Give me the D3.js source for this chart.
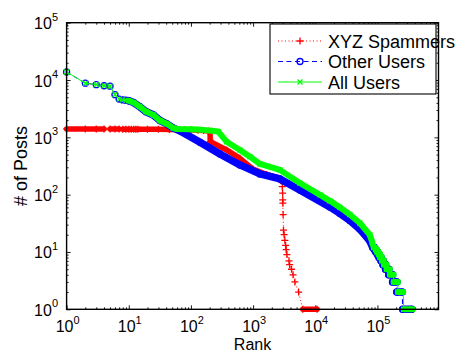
<!DOCTYPE html>
<html>
<head>
<meta charset="utf-8">
<script src="https://cdn.jsdelivr.net/npm/d3@7"></script>
<style>
  body { margin: 0; background: #fff; }
  text { font-family: "Liberation Sans", Arial, Helvetica, sans-serif; fill: #000; }
</style>
</head>
<body>
<svg id="chart" width="466" height="354"></svg>
<script>
// ---- data ----
const seriesNames = ["XYZ Spammers", "Other Users", "All Users"];
const xTickExps = [0, 1, 2, 3, 4, 5];
const yTickExps = [0, 1, 2, 3, 4, 5];

// XYZ spammers
const spamRank  = [1, 2, 3, 4, 5, 6, 7, 8, 9, 10, 11, 12, 13, 14, 20, 30, 45, 60, 80, 100, 130, 160, 190, 203,
                   204, 226, 375, 614, 993, 1650, 2390, 2800,
                   2950, 2980, 3000, 3010, 3040, 3080, 3160, 3240, 3330, 3400, 3500, 3780, 3870, 4150, 4390, 4700, 5400,
                   6300, 10700];
const spamPosts = [1400, 1400, 1400, 1400, 1395, 1395, 1395, 1390, 1390, 1390, 1390, 1385, 1385, 1385, 1385, 1380, 1375, 1370, 1360, 1350, 1335, 1315, 1290, 1260,
                   840, 800, 603, 430, 280, 225, 200, 175,
                   138, 106, 81, 71, 45, 24, 20, 16, 13, 11, 9, 7, 6, 5, 4, 3, 2,
                   1, 1];

// other users
const otherRank  = [1, 2, 3, 4, 5, 6, 7, 8, 9, 10, 12, 15, 19, 25, 32, 41, 52, 66, 140, 293, 614, 1290, 2700, 5650,
                    17200, 24900, 35900, 52100, 75400,
                    84000, 89000, 89000, 94000, 94000, 100000, 100000, 106000, 106000, 114000, 114000, 123000,
                    123000, 135000, 135000, 152000, 152000, 175000, 175000, 205000, 205000, 250000, 255000, 355000];
const otherPosts = [13800, 8800, 8300, 7950, 7800, 5550, 4650, 4500, 4450, 4350, 4040, 3420, 2800, 2450, 1950, 1720, 1450, 1300, 820, 513, 330, 230, 188, 121,
                    61, 47, 35.5, 25, 15.6,
                    12, 12, 11, 11, 10, 10, 9, 9, 8, 8, 7, 7,
                    6, 6, 5, 5, 4, 4, 3, 3, 2, 2, 1, 1];

// all users
const allRank  = [1, 2, 3, 4, 5, 6, 7, 8, 9, 10, 12, 15, 19, 25, 32, 41, 52, 60, 100, 150, 200, 275, 375, 614, 889, 1290, 2700, 5650, 11900,
                  17200, 24900, 35900, 52100, 75400, 82000,
                  87000, 93000, 93000, 98000, 98000, 104000, 104000, 110000, 110000, 118000, 118000, 127000,
                  127000, 140000, 140000, 158000, 158000, 182000, 182000, 213000, 213000, 260000, 265000, 365000];
const allPosts = [13800, 8800, 8300, 7950, 7800, 5550, 4650, 4500, 4450, 4350, 4040, 3420, 2800, 2450, 1950, 1720, 1450, 1400, 1380, 1350, 1320, 1260, 840, 603, 460, 343, 270, 160, 99,
                  78, 60, 45, 32, 20, 15,
                  12, 12, 11, 11, 10, 10, 9, 9, 8, 8, 7, 7,
                  6, 6, 5, 5, 4, 4, 3, 3, 2, 2, 1, 1];

// ---- layout ----
const svg = d3.select("#chart");
const x = d3.scaleLog().domain([1, 9.6e5]).range([66.6, 438.5]);
const y = d3.scaleLog().domain([1, 1e5]).range([309.3, 22.7]);
const [x0, x1] = x.range();
const [y0, y1] = y.range();

const isPow = d => Math.abs(Math.log10(d) - Math.round(Math.log10(d))) < 1e-9;

// ticks on all four sides, pointing inwards
function ticks(axisFn, scale, transform) {
  const all = scale.ticks();
  const major = all.filter(isPow), minor = all.filter(d => !isPow(d));
  [[major, 4], [minor, 2]].forEach(([vals, len]) => {
    const g = svg.append("g").attr("transform", transform)
      .call(axisFn(scale).tickValues(vals).tickSizeInner(-len).tickSizeOuter(0).tickFormat(""));
    g.select(".domain").remove();
    g.selectAll("line").attr("stroke", "#000").attr("stroke-width", 0.9);
  });
}
ticks(d3.axisBottom, x, `translate(0,${y0})`);
ticks(d3.axisTop, x, `translate(0,${y1})`);
ticks(d3.axisLeft, y, `translate(${x0},0)`);
ticks(d3.axisRight, y, `translate(${x1},0)`);

// tick labels 10^n
const xl = svg.append("g").attr("font-size", 16).attr("text-anchor", "middle");
xTickExps.forEach(e => {
  const t = xl.append("text").attr("x", x(Math.pow(10, e)) + 1).attr("y", 332);
  t.append("tspan").text("10");
  t.append("tspan").attr("dy", -8).attr("font-size", 11).text(e);
});
const yl = svg.append("g").attr("font-size", 16).attr("text-anchor", "end");
yTickExps.forEach(e => {
  const t = yl.append("text").attr("x", 58).attr("y", y(Math.pow(10, e)) + 6.5);
  t.append("tspan").text("10");
  t.append("tspan").attr("dy", -8.5).attr("font-size", 11).text(e);
});

svg.append("text").attr("x", (x0 + x1) / 2).attr("y", 350).attr("text-anchor", "middle")
  .attr("font-size", 16).text("Rank");
svg.append("text").attr("transform", `translate(27,${(y0 + y1) / 2}) rotate(-90)`)
  .attr("text-anchor", "middle").attr("font-size", 18).text("# of Posts");

// ---- series ----
const styles = [
  { color: "#ff0000", dash: "1,2.5", marker: "plus", band: 5.5, bandFrom: 14, bandTo: 2800 },
  { color: "#0000ff", dash: "5,3.5", marker: "circle", band: 7.5, bandFrom: 10, bandTo: 84000 },
  { color: "#00ff00", dash: null, marker: "cross", band: 6, bandFrom: 10, bandTo: 87000 }
];
const series = [
  spamRank.map((r, i) => [r, spamPosts[i]]),
  otherRank.map((r, i) => [r, otherPosts[i]]),
  allRank.map((r, i) => [r, allPosts[i]])
];

const plot = svg.append("g");

function drawMarker(g, kind, cx, cy, color) {
  if (kind === "plus") {
    g.append("path").attr("d", `M${cx - 3.5},${cy}H${cx + 3.5}M${cx},${cy - 3.5}V${cy + 3.5}`)
      .attr("stroke", color).attr("stroke-width", 1.3).attr("fill", "none");
  } else if (kind === "circle") {
    g.append("circle").attr("cx", cx).attr("cy", cy).attr("r", 3)
      .attr("stroke", color).attr("stroke-width", 1.3).attr("fill", "none");
  } else {
    g.append("path").attr("d", `M${cx - 2.5},${cy - 2.5}L${cx + 2.5},${cy + 2.5}M${cx - 2.5},${cy + 2.5}L${cx + 2.5},${cy - 2.5}`)
      .attr("stroke", color).attr("stroke-width", 1.3).attr("fill", "none");
  }
}

series.forEach((pts, si) => {
  const st = styles[si];
  const g = plot.append("g");
  // dense stretches where markers merge into a solid band
  let d = "";
  for (let i = 0; i < pts.length - 1; i++) {
    const [ra, va] = pts[i], [rb, vb] = pts[i + 1];
    const inRange = ra >= st.bandFrom && rb <= st.bandTo;
    const flat = va === vb;
    if (inRange || flat) d += `M${x(ra)},${y(va)}L${x(rb)},${y(vb)}`;
  }
  g.append("path").attr("d", d).attr("fill", "none").attr("stroke", st.color)
    .attr("stroke-width", st.band).attr("stroke-linecap", "round").attr("stroke-linejoin", "round");
  // connecting line
  g.append("path").datum(pts)
    .attr("d", d3.line().x(p => x(p[0])).y(p => y(p[1])))
    .attr("fill", "none").attr("stroke", st.color).attr("stroke-width", 1)
    .attr("stroke-dasharray", st.dash);
  pts.forEach(p => drawMarker(g, st.marker, x(p[0]), y(p[1]), st.color));
});

// axes box
svg.append("rect").attr("x", x0).attr("y", y1).attr("width", x1 - x0).attr("height", y0 - y1)
  .attr("fill", "none").attr("stroke", "#000").attr("stroke-width", 1.4);

// ---- legend ----
const lg = svg.append("g");
lg.append("rect").attr("x", 270).attr("y", 24).attr("width", 166).attr("height", 70)
  .attr("fill", "#fff").attr("stroke", "#000").attr("stroke-width", 1.1);
seriesNames.forEach((name, i) => {
  const st = styles[i];
  const cy = 41 + i * 20.5;
  lg.append("line").attr("x1", 278).attr("x2", 322).attr("y1", cy).attr("y2", cy)
    .attr("stroke", st.color).attr("stroke-width", 1).attr("stroke-dasharray", st.dash);
  drawMarker(lg, st.marker, 300, cy, st.color);
  lg.append("text").attr("x", 328).attr("y", cy + 6.5).attr("font-size", 18).text(name);
});
</script>
</body>
</html>
